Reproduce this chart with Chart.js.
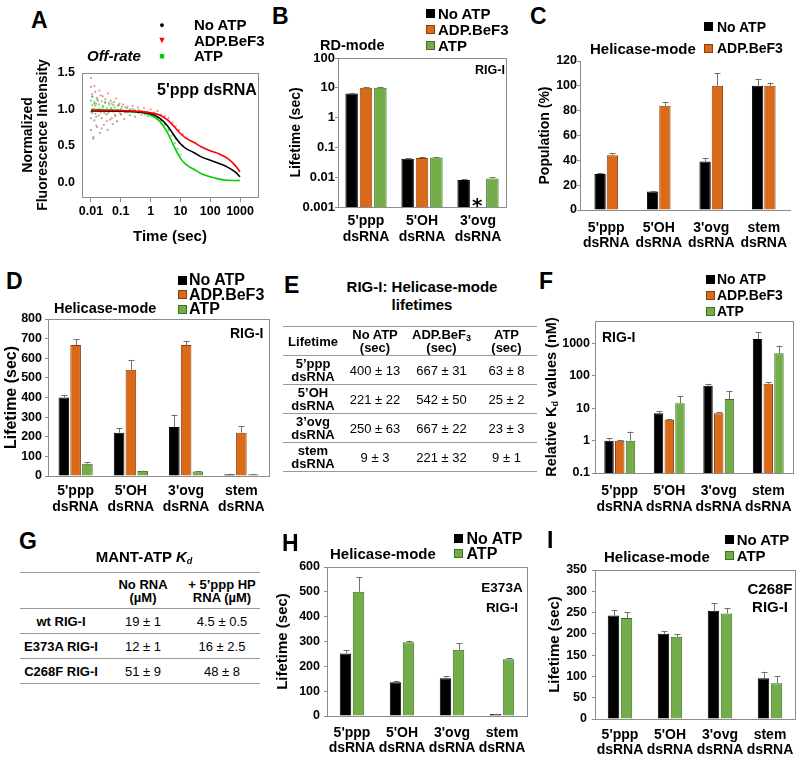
<!DOCTYPE html>
<html>
<head>
<meta charset="utf-8">
<script src="https://cdn.jsdelivr.net/npm/chart.js@4.4.1/dist/chart.umd.min.js"></script>
<style>
body { margin: 0; background: #fff; }
#fig { position: relative; width: 800px; height: 760px; overflow: hidden; font-family: 'Liberation Sans', Arial, sans-serif; color: #000; }
#fig canvas { position: absolute; }
.t { position: absolute; font-weight: bold; white-space: nowrap; line-height: 1; }
.letter { font-size: 23px; }
.leg { position: absolute; font-weight: bold; white-space: nowrap; }
.leg div { display: flex; align-items: center; }
.leg i { display: inline-block; width: 9px; height: 9px; box-sizing: border-box; border: 1px solid #000; }
.leg b { display: inline-block; width: 10px; text-align: center; font-size: 9px; }
table { position: absolute; border-collapse: collapse; font-size: 13px; border-top: 1.5px solid #999; }
td, th { text-align: center; padding: 0; border-bottom: 1.5px solid #999; line-height: 13px; }
td { font-weight: normal; }
sub { font-size: 9px; line-height: 0; vertical-align: -2px; }
</style>
</head>
<body>
<div id="fig">
  <canvas id="cA" width="268" height="196" style="left:0;top:54px"></canvas>
  <canvas id="cB" width="254" height="210" style="left:262px;top:40px"></canvas>
  <canvas id="cC" width="268" height="210" style="left:530px;top:45px"></canvas>
  <canvas id="cD" width="275" height="215" style="left:0;top:300px"></canvas>
  <canvas id="cF" width="270" height="210" style="left:530px;top:305px"></canvas>
  <canvas id="cH" width="265" height="210" style="left:270px;top:550px"></canvas>
  <canvas id="cI" width="270" height="207" style="left:530px;top:553px"></canvas>

  <div class="t letter" style="left:31px;top:9px">A</div>
  <div class="t letter" style="left:272px;top:5px">B</div>
  <div class="t letter" style="left:530px;top:5px">C</div>
  <div class="t letter" style="left:6px;top:270px">D</div>
  <div class="t letter" style="left:284px;top:274px">E</div>
  <div class="t letter" style="left:539px;top:270px">F</div>
  <div class="t letter" style="left:19px;top:530px">G</div>
  <div class="t letter" style="left:282px;top:532px">H</div>
  <div class="t letter" style="left:547px;top:529px">I</div>

  <!-- A -->
  <div class="leg" style="left:157px;top:17px;font-size:15px">
    <div style="height:15.5px"><b style="color:#000">●</b><span style="margin-left:27px">No ATP</span></div>
    <div style="height:15.5px"><b style="color:#f00">▼</b><span style="margin-left:27px">ADP.BeF3</span></div>
    <div style="height:15.5px"><b style="color:#0c0">■</b><span style="margin-left:27px">ATP</span></div>
  </div>
  <div class="t" style="left:87px;top:48px;font-size:15px;font-style:italic">Off-rate</div>
  <div class="t" style="left:157px;top:82px;font-size:16px">5'ppp dsRNA</div>

  <!-- B -->
  <div class="leg" style="left:426px;top:5px;font-size:15px">
    <div style="height:16px"><i style="background:#000"></i><span style="margin-left:3px">No ATP</span></div>
    <div style="height:16px"><i style="background:#da6a17;border-color:#8a3f0c"></i><span style="margin-left:3px">ADP.BeF3</span></div>
    <div style="height:16px"><i style="background:#72ad4a;border-color:#3f6e24"></i><span style="margin-left:3px">ATP</span></div>
  </div>
  <div class="t" style="left:320px;top:38px;font-size:14.5px">RD-mode</div>
  <div class="t" style="left:475px;top:64px;font-size:12.5px">RIG-I</div>
  <div class="t" style="left:472px;top:195px;font-size:20px;font-family:'DejaVu Sans'">*</div>

  <!-- C -->
  <div class="leg" style="left:704px;top:16px;font-size:14px">
    <div style="height:21.6px"><i style="background:#000"></i><span style="margin-left:4px">No ATP</span></div>
    <div style="height:21.6px"><i style="background:#da6a17;border-color:#8a3f0c"></i><span style="margin-left:4px">ADP.BeF3</span></div>
  </div>
  <div class="t" style="left:590px;top:41px;font-size:15px">Helicase-mode</div>

  <!-- D -->
  <div class="leg" style="left:178px;top:273px;font-size:16px">
    <div style="height:14.5px"><i style="background:#000"></i><span style="margin-left:2px">No ATP</span></div>
    <div style="height:14.5px"><i style="background:#da6a17;border-color:#8a3f0c"></i><span style="margin-left:2px">ADP.BeF3</span></div>
    <div style="height:14.5px"><i style="background:#72ad4a;border-color:#3f6e24"></i><span style="margin-left:2px">ATP</span></div>
  </div>
  <div class="t" style="left:54px;top:301px;font-size:14.5px">Helicase-mode</div>
  <div class="t" style="left:230px;top:326px;font-size:14px">RIG-I</div>

  <!-- E -->
  <div class="t" style="left:336px;top:278px;width:172px;text-align:center;font-size:15px;line-height:18px">RIG-I: Helicase-mode<br>lifetimes</div>
  <table id="tE" style="left:283px;top:326px;width:254px">
    <colgroup><col style="width:60px"><col style="width:64px"><col style="width:69px"><col style="width:61px"></colgroup>
    <tr style="height:29px"><th>Lifetime</th><th>No ATP<br>(sec)</th><th>ADP.BeF<sub>3</sub><br>(sec)</th><th>ATP<br>(sec)</th></tr>
  </table>

  <!-- F -->
  <div class="leg" style="left:706px;top:271px;font-size:14px">
    <div style="height:16px"><i style="background:#000"></i><span style="margin-left:2px">No ATP</span></div>
    <div style="height:16px"><i style="background:#da6a17;border-color:#8a3f0c"></i><span style="margin-left:2px">ADP.BeF3</span></div>
    <div style="height:16px"><i style="background:#72ad4a;border-color:#3f6e24"></i><span style="margin-left:2px">ATP</span></div>
  </div>
  <div class="t" style="left:602px;top:330px;font-size:14px">RIG-I</div>
  <div class="t" style="left:551px;top:397px;font-size:14.5px;transform:translate(-50%,-50%) rotate(-90deg)">Relative K<sub>d</sub> values (nM)</div>

  <!-- G -->
  <div class="t" style="left:44px;top:549px;width:200px;text-align:center;font-size:15px">MANT-ATP <i>K<sub>d</sub></i></div>
  <table id="tG" style="left:20px;top:572px;width:240px">
    <colgroup><col style="width:82px"><col style="width:82px"><col style="width:76px"></colgroup>
    <tr style="height:36px"><th></th><th>No RNA<br>(µM)</th><th>+ 5’ppp HP<br>RNA (µM)</th></tr>
  </table>

  <!-- H -->
  <div class="leg" style="left:454px;top:531px;font-size:16px">
    <div style="height:15px"><i style="background:#000"></i><span style="margin-left:3.5px">No ATP</span></div>
    <div style="height:15px"><i style="background:#72ad4a;border-color:#3f6e24"></i><span style="margin-left:3.5px">ATP</span></div>
  </div>
  <div class="t" style="left:330px;top:546px;font-size:15px">Helicase-mode</div>
  <div class="t" style="left:462px;top:578px;width:80px;text-align:center;font-size:13.5px;line-height:20px">E373A<br>RIG-I</div>

  <!-- I -->
  <div class="leg" style="left:725px;top:531px;font-size:15px">
    <div style="height:16.4px"><i style="background:#000"></i><span style="margin-left:2.7px">No ATP</span></div>
    <div style="height:16.4px"><i style="background:#72ad4a;border-color:#3f6e24"></i><span style="margin-left:2.7px">ATP</span></div>
  </div>
  <div class="t" style="left:604px;top:549px;font-size:15px">Helicase-mode</div>
  <div class="t" style="left:730px;top:580px;width:80px;text-align:center;font-size:15px;line-height:18px">C268F<br>RIG-I</div>
</div>

<script>
// category labels
const rnaLabels = [["5'ppp", "dsRNA"], ["5'OH", "dsRNA"], ["3'ovg", "dsRNA"], ["stem", "dsRNA"]];
const rnaNames = ["5’ppp", "5’OH", "3’ovg", "stem"];

// A: off-rate traces, 5'ppp dsRNA
const timeTicks = [0.01, 0.1, 1, 10, 100, 1000];
const fluorTicks = [0, 0.5, 1, 1.5];
const offTimes = [0.01, 0.1, 1, 2, 3.6, 6, 10, 16, 28, 50, 105, 200, 380, 700, 1000];
const offNoAtp = [0.98, 0.975, 0.94, 0.88, 0.78, 0.65, 0.53, 0.46, 0.41, 0.35, 0.30, 0.26, 0.21, 0.14, 0.077];
const offAdp = [0.99, 0.985, 0.955, 0.925, 0.86, 0.77, 0.67, 0.60, 0.55, 0.49, 0.43, 0.39, 0.33, 0.23, 0.145];
const offAtp = [1.0, 0.985, 0.925, 0.84, 0.69, 0.50, 0.33, 0.24, 0.18, 0.12, 0.075, 0.045, 0.03, 0.027, 0.027];
const noAtpPts = [[0.010,1.31],[0.010,0.72],[0.011,0.95],[0.011,1.18],[0.012,0.62],[0.013,1.08],[0.013,0.85],[0.014,1.24],[0.015,0.90],[0.016,0.76],[0.017,1.12],[0.018,0.98],[0.02,0.68],[0.021,1.19],[0.023,0.88],[0.025,1.05],[0.027,0.79],[0.03,1.14],[0.033,0.93],[0.036,0.72],[0.04,1.09],[0.044,0.86],[0.048,1.02],[0.053,0.80],[0.06,1.10],[0.066,0.91],[0.075,0.84],[0.085,1.06],[0.1,0.93],[0.11,1.04],[0.13,0.87],[0.16,1.02],[0.2,0.92],[0.25,1.01],[0.3,0.90],[0.4,0.99],[0.5,0.93],[0.65,0.97],[0.8,0.91],[1.0,0.95],[1.3,0.91],[1.7,0.89],[2.2,0.86],[3,0.81],[4,0.74],[5.5,0.67],[7,0.60],[9,0.56],[12,0.50]];
const adpPts = [[0.010,1.43],[0.010,0.88],[0.011,1.21],[0.012,0.98],[0.012,0.60],[0.013,1.32],[0.014,1.05],[0.015,0.78],[0.016,1.16],[0.018,0.92],[0.019,1.26],[0.021,1.00],[0.023,0.74],[0.025,1.18],[0.028,0.95],[0.03,1.10],[0.034,0.84],[0.037,1.22],[0.041,0.97],[0.046,1.12],[0.05,0.88],[0.056,1.06],[0.063,0.93],[0.07,1.15],[0.08,0.99],[0.09,1.08],[0.1,0.94],[0.12,1.07],[0.14,0.96],[0.17,1.04],[0.2,0.99],[0.25,1.05],[0.3,0.97],[0.38,1.03],[0.5,0.98],[0.6,1.02],[0.8,0.97],[1,1.00],[1.3,0.96],[1.7,0.98],[2.2,0.93],[3,0.91],[4,0.88],[5.5,0.82],[7,0.77],[9,0.72],[12,0.66],[16,0.61]];
const atpPts = [[0.010,1.12],[0.010,0.97],[0.011,1.06],[0.011,1.17],[0.012,1.01],[0.013,1.10],[0.014,0.94],[0.015,1.08],[0.016,1.14],[0.018,1.00],[0.019,1.07],[0.021,0.96],[0.023,1.11],[0.025,1.03],[0.028,0.98],[0.03,1.09],[0.034,1.02],[0.037,0.95],[0.041,1.06],[0.046,1.00],[0.05,1.08],[0.056,0.97],[0.063,1.03],[0.07,0.99],[0.08,1.05],[0.09,0.96],[0.1,1.01],[0.12,0.98],[0.14,1.03],[0.17,0.96],[0.2,1.00],[0.25,0.97],[0.3,0.99],[0.4,0.95],[0.5,0.97],[0.65,0.93],[0.8,0.95],[1,0.91],[1.3,0.90],[1.7,0.87],[2.2,0.84],[3,0.79],[4,0.71],[5,0.64],[6.5,0.54],[8,0.46],[10,0.38]];

// B: RD-mode lifetimes (sec)
const rdTicks = [0.001, 0.01, 0.1, 1, 10, 100];
const rdNoAtp = [6.5, 0.042, 0.008];
const rdNoAtpErr = [0.3, 0.002, 0.0007];
const rdAdp = [10, 0.044, null];
const rdAdpErr = [0.4, 0.002, 0];
const rdAtp = [10, 0.046, 0.009];
const rdAtpErr = [0.4, 0.002, 0.001];

// C: helicase-mode population (%)
const popNoAtp = [29, 15, 39, 100];
const popNoAtpErr = [1, 0.4, 2.5, 5.5];
const popAdp = [44, 84, 100, 100];
const popAdpErr = [1.8, 3, 10, 2.5];

// D / E: helicase-mode lifetimes (sec)
const lifeNoAtp = [400, 221, 250, 9];
const lifeNoAtpErr = [13, 22, 63, 3];
const lifeAdp = [667, 542, 667, 221];
const lifeAdpErr = [31, 50, 22, 32];
const lifeAtp = [63, 25, 23, 9];
const lifeAtpErr = [8, 2, 3, 1];

// F: relative Kd (nM)
const kdTicks = [0.1, 1, 10, 100, 1000];
const kdNoAtp = [1, 7, 50, 1380];
const kdNoAtpErr = [0.2, 1.3, 7, 900];
const kdAdp = [1, 4.4, 7, 57];
const kdAdpErr = [0.05, 0.3, 0.7, 6];
const kdAtp = [1, 14.4, 19.5, 506];
const kdAtpErr = [0.9, 10, 15, 350];

// G: MANT-ATP Kd (uM)
const mantProteins = ['wt RIG-I', 'E373A RIG-I', 'C268F RIG-I'];
const mantNoRna = [19, 12, 51];
const mantNoRnaErr = [1, 1, 9];
const mantHpRna = [4.5, 16, 48];
const mantHpRnaErr = [0.5, 2.5, 8];

// H: E373A lifetimes (sec)
const e373NoAtp = [252, 136, 152, 8];
const e373NoAtpErr = [12, 6, 9, 1];
const e373Atp = [500, 297, 267, 229];
const e373AtpErr = [58, 6, 26, 3];

// I: C268F lifetimes (sec)
const c268NoAtp = [243, 200, 254, 96];
const c268NoAtpErr = [13, 6, 18, 15];
const c268Atp = [237, 193, 248, 84];
const c268AtpErr = [14, 7, 12, 17];

const FONT = "'Liberation Sans', Arial, sans-serif";
const AXIS = '#8c8c8c';
const BLACK = ['#000000', '#000000'];
const ORANGE = ['#da6a17', '#8a3f0c'];
const GREEN = ['#72ad4a', '#3f6e24'];

// frame round the plot area
const boxPlugin = {
    id: 'box',
    afterDraw(chart, args, opts) {
        if (!opts.show) return;
        const { left, top, right, bottom } = chart.chartArea;
        const ctx = chart.ctx;
        ctx.save();
        ctx.strokeStyle = AXIS;
        ctx.lineWidth = 1;
        ctx.strokeRect(Math.round(left) + 0.5, Math.round(top) + 0.5, Math.round(right - left), Math.round(bottom - top));
        ctx.restore();
    }
};

// upper error bars, drawn from the bar value to value + error
const errorBars = {
    id: 'errorBars',
    afterDatasetsDraw(chart) {
        const ctx = chart.ctx;
        const y = chart.scales.y;
        chart.data.datasets.forEach((ds, i) => {
            if (!ds.errors) return;
            chart.getDatasetMeta(i).data.forEach((bar, j) => {
                const v = ds.data[j], e = ds.errors[j];
                if (v == null || !e) return;
                const top = y.getPixelForValue(v + e);
                const x = Math.round(bar.x) + 0.5;
                ctx.save();
                ctx.strokeStyle = '#707070';
                ctx.lineWidth = 1;
                ctx.beginPath();
                ctx.moveTo(x, bar.y);
                ctx.lineTo(x, top);
                ctx.moveTo(x - 3, Math.round(top) + 0.5);
                ctx.lineTo(x + 3, Math.round(top) + 0.5);
                ctx.stroke();
                ctx.restore();
            });
        });
    }
};

Chart.register(boxPlugin, errorBars);

function barChart(id, labels, series, o) {
    new Chart(document.getElementById(id), {
        type: 'bar',
        data: {
            labels: labels,
            datasets: series.map(s => ({
                data: s.data,
                errors: s.err,
                backgroundColor: s.color[0],
                borderColor: s.color[1],
                borderWidth: 1,
                categoryPercentage: o.cat,
                barPercentage: o.bar
            }))
        },
        options: {
            responsive: false,
            animation: false,
            events: [],
            layout: { padding: o.pad },
            plugins: { legend: { display: false }, tooltip: { enabled: false }, box: { show: o.box } },
            scales: {
                x: {
                    grid: { display: false, drawTicks: false },
                    border: { color: AXIS },
                    ticks: { color: '#000', padding: o.xpad, maxRotation: 0, autoSkip: false,
                             font: { family: FONT, size: 14, weight: 'bold', lineHeight: 1.08 } },
                    afterFit: s => { s.height = o.xh; s.paddingLeft = 0; s.paddingRight = 0; }
                },
                y: {
                    type: o.log ? 'logarithmic' : 'linear',
                    min: o.min,
                    max: o.max,
                    grid: { drawOnChartArea: false, tickLength: 3, color: AXIS },
                    border: { color: AXIS },
                    ticks: { color: '#000', padding: o.ypad, stepSize: o.step, autoSkip: false,
                             font: { family: FONT, size: o.tick || 12.5, weight: 'bold' },
                             callback: v => String(v) },
                    afterBuildTicks: o.ticks ? (s => { s.ticks = o.ticks.map(v => ({ value: v })); }) : undefined,
                    title: { display: !!o.title, text: o.title, color: '#000', padding: { top: 2, bottom: 2 },
                             font: { family: FONT, size: o.tsize || 15, weight: 'bold' } },
                    afterFit: s => { s.width = o.yw; }
                }
            }
        }
    });
}

function createOffRateChart() {
    const pts = arr => arr.map(p => ({ x: p[0], y: p[1] }));
    const curve = vals => offTimes.map((t, i) => ({ x: t, y: vals[i] }));
    const line = (vals, c) => ({ data: curve(vals), showLine: true, borderColor: c, borderWidth: 1.6,
                                 pointRadius: 0, cubicInterpolationMode: 'monotone' });
    const dots = (arr, c) => ({ data: pts(arr), pointRadius: 1.1, backgroundColor: c, borderWidth: 0 });

    new Chart(document.getElementById('cA'), {
        type: 'scatter',
        data: {
            datasets: [
                line(offAdp, '#ff0000'),
                line(offNoAtp, '#000000'),
                line(offAtp, '#00cc00'),
                dots(atpPts, 'rgba(0,200,0,0.55)'),
                dots(adpPts, 'rgba(255,0,0,0.45)'),
                dots(noAtpPts, 'rgba(0,0,0,0.35)')
            ]
        },
        options: {
            responsive: false,
            animation: false,
            events: [],
            clip: false,
            layout: { padding: { left: 16, top: 19, right: 10, bottom: 0 } },
            plugins: { legend: { display: false }, tooltip: { enabled: false }, box: { show: true } },
            scales: {
                x: {
                    type: 'logarithmic',
                    min: 0.005,
                    max: 4000,
                    grid: { drawOnChartArea: false, tickLength: 5, color: AXIS },
                    border: { color: AXIS },
                    ticks: { color: '#000', padding: 2.5, autoSkip: false, font: { family: FONT, size: 12.5, weight: 'bold' },
                             callback: v => String(v) },
                    afterBuildTicks: s => { s.ticks = timeTicks.map(v => ({ value: v })); },
                    title: { display: true, text: 'Time (sec)', color: '#000', padding: { top: 2, bottom: 4 },
                             font: { family: FONT, size: 15, weight: 'bold' } },
                    afterFit: s => { s.height = 53; s.paddingLeft = 0; s.paddingRight = 0; }
                },
                y: {
                    min: -0.2,
                    max: 1.5,
                    grid: { display: false, drawTicks: false },
                    border: { color: AXIS },
                    ticks: { color: '#000', padding: 7, stepSize: 0.5, autoSkip: false,
                             font: { family: FONT, size: 12.5, weight: 'bold' },
                             callback: v => fluorTicks.includes(v) ? v.toFixed(1) : '' },
                    title: { display: true, text: ['Normalized', 'Fluorescence Intensity'], color: '#000',
                             padding: { top: 4, bottom: 0 }, font: { family: FONT, size: 14, weight: 'bold', lineHeight: 1.1 } },
                    afterFit: s => { s.width = 66; }
                }
            }
        }
    });
}

function fillTables() {
    const tE = document.getElementById('tE');
    rnaNames.forEach((name, i) => {
        const tr = document.createElement('tr');
        tr.style.height = '29px';
        tr.innerHTML = '<th>' + name + '<br>dsRNA</th>' +
            '<td>' + lifeNoAtp[i] + ' ± ' + lifeNoAtpErr[i] + '</td>' +
            '<td>' + lifeAdp[i] + ' ± ' + lifeAdpErr[i] + '</td>' +
            '<td>' + lifeAtp[i] + ' ± ' + lifeAtpErr[i] + '</td>';
        tE.appendChild(tr);
    });
    const tG = document.getElementById('tG');
    mantProteins.forEach((name, i) => {
        const tr = document.createElement('tr');
        tr.style.height = '25px';
        tr.innerHTML = '<th>' + name + '</th>' +
            '<td>' + mantNoRna[i] + ' ± ' + mantNoRnaErr[i] + '</td>' +
            '<td>' + mantHpRna[i] + ' ± ' + mantHpRnaErr[i] + '</td>';
        tG.appendChild(tr);
    });
}

document.addEventListener('DOMContentLoaded', () => {
    createOffRateChart();

    barChart('cB', rnaLabels.slice(0, 3), [
        { data: rdNoAtp, err: rdNoAtpErr, color: BLACK },
        { data: rdAdp, err: rdAdpErr, color: ORANGE },
        { data: rdAtp, err: rdAtpErr, color: GREEN }
    ], { pad: { left: 24, top: 18, right: 10, bottom: 0 }, yw: 52, xh: 43, xpad: 7, ypad: 0,
         log: true, min: 0.001, max: 100, ticks: rdTicks, tick: 13, title: 'Lifetime (sec)', tsize: 14,
         cat: 0.77, bar: 0.87, box: true });

    barChart('cC', rnaLabels, [
        { data: popNoAtp, err: popNoAtpErr, color: BLACK },
        { data: popAdp, err: popAdpErr, color: ORANGE }
    ], { pad: { left: 5, top: 16, right: 8, bottom: 0 }, yw: 45, xh: 45, xpad: 10.5, ypad: 0,
         min: 0, max: 120, step: 20, title: 'Population (%)', tsize: 14,
         cat: 0.47, bar: 0.92, box: false });

    barChart('cD', rnaLabels, [
        { data: lifeNoAtp, err: lifeNoAtpErr, color: BLACK },
        { data: lifeAdp, err: lifeAdpErr, color: ORANGE },
        { data: lifeAtp, err: lifeAtpErr, color: GREEN }
    ], { pad: { left: 0, top: 19, right: 6, bottom: 0 }, yw: 48, xh: 39, xpad: 8, ypad: 3,
         min: 0, max: 800, step: 100, title: 'Lifetime (sec)', tsize: 16,
         cat: 0.64, bar: 0.9, box: true });

    barChart('cF', rnaLabels, [
        { data: kdNoAtp, err: kdNoAtpErr, color: BLACK },
        { data: kdAdp, err: kdAdpErr, color: ORANGE },
        { data: kdAtp, err: kdAtpErr, color: GREEN }
    ], { pad: { left: 0, top: 16, right: 7, bottom: 0 }, yw: 65, xh: 42, xpad: 11, ypad: 2,
         log: true, min: 0.1, max: 5000, ticks: kdTicks,
         cat: 0.65, bar: 0.88, box: true });

    barChart('cH', rnaLabels, [
        { data: e373NoAtp, err: e373NoAtpErr, color: BLACK },
        { data: e373Atp, err: e373AtpErr, color: GREEN }
    ], { pad: { left: 2, top: 17, right: 8, bottom: 0 }, yw: 55, xh: 44, xpad: 9.5, ypad: 4,
         min: 0, max: 600, step: 100, title: 'Lifetime (sec)', tsize: 15,
         cat: 0.52, bar: 0.88, box: true });

    barChart('cI', rnaLabels, [
        { data: c268NoAtp, err: c268NoAtpErr, color: BLACK },
        { data: c268Atp, err: c268AtpErr, color: GREEN }
    ], { pad: { left: 14, top: 17, right: 5, bottom: 0 }, yw: 51, xh: 41, xpad: 8.5, ypad: 5,
         min: 0, max: 350, step: 50, title: 'Lifetime (sec)', tsize: 15,
         cat: 0.52, bar: 0.88, box: true });

    fillTables();
});
</script>
</body>
</html>
